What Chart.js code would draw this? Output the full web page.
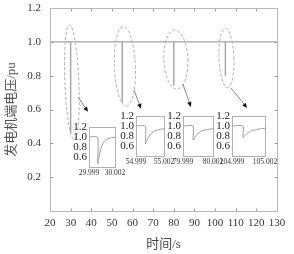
<!DOCTYPE html>
<html>
<head>
<meta charset="utf-8">
<script src="https://cdn.jsdelivr.net/npm/chart.js@4.4.1/dist/chart.umd.min.js"></script>
<style>
  html, body { margin: 0; padding: 0; background: #fff; }
  #wrap { position: relative; width: 294px; height: 254px; overflow: hidden; }
  #wrap canvas { position: absolute; }
</style>
</head>
<body>
<div id="wrap">
  <canvas id="main" width="294" height="254" style="left:0;top:0"></canvas>
  <canvas id="inset1"></canvas>
  <canvas id="inset2"></canvas>
  <canvas id="inset3"></canvas>
  <canvas id="inset4"></canvas>
</div>
<script>
// Hauptverlauf: Zeit (s) und Klemmenspannung (pu)
const mainTime = [20, 30, 30, 30.003, 55, 55, 55.003, 80, 80, 80.003, 105, 105, 105.003, 130];
const mainVolt = [1.0, 1.0, 0.46, 1.0, 1.0, 0.64, 1.0, 1.0, 0.74, 1.0, 1.0, 0.80, 1.0, 1.0];
const xTickValues = [20, 30, 40, 50, 60, 70, 80, 90, 100, 110, 120, 130];
const yTickValues = [0.2, 0.4, 0.6, 0.8, 1.0, 1.2];

// Ausschnitte um die vier Einbrueche
const inset1Time = [29.999, 30.0, 30.0, 30.0001, 30.0003, 30.0005, 30.0007, 30.001, 30.0013, 30.0016, 30.002];
const inset1Volt = [1.0, 1.0, 0.46, 0.55, 0.72, 0.83, 0.90, 0.95, 0.97, 0.985, 0.99];
const inset2Time = [54.999, 55.0, 55.0, 55.0001, 55.0003, 55.0005, 55.0007, 55.001, 55.0013, 55.0016, 55.002];
const inset2Volt = [1.0, 1.0, 0.64, 0.68, 0.76, 0.82, 0.86, 0.90, 0.92, 0.935, 0.945];
const inset3Time = [79.999, 80.0, 80.0, 80.0001, 80.0003, 80.0005, 80.0007, 80.001, 80.0013, 80.0016, 80.002];
const inset3Volt = [1.0, 1.0, 0.72, 0.75, 0.81, 0.85, 0.88, 0.91, 0.925, 0.935, 0.945];
const inset4Time = [104.999, 105.0, 105.0, 105.0001, 105.0003, 105.0005, 105.0007, 105.001, 105.0013, 105.0016, 105.002];
const inset4Volt = [1.0, 1.0, 0.77, 0.79, 0.84, 0.87, 0.90, 0.92, 0.935, 0.945, 0.955];
const insetYTicks = [0.6, 0.8, 1.0, 1.2];

const serif = "'Liberation Serif', 'Noto Sans CJK SC', serif";

// Rahmen mit nach innen zeigenden Teilstrichen
const framePlugin = {
  id: 'frame',
  afterDraw(chart, args, opts) {
    const {ctx, chartArea: a} = chart;
    const l = Math.round(a.left) + 0.5, r = Math.round(a.right) + 0.5;
    const t = Math.round(a.top) + 0.5, b = Math.round(a.bottom) + 0.5;
    ctx.save();
    ctx.lineWidth = 1;
    if (opts.tickLen) {
      ctx.strokeStyle = '#9a9a9a';
      ctx.beginPath();
      chart.scales.x.ticks.forEach(tk => {
        const px = Math.round(chart.scales.x.getPixelForValue(tk.value)) + 0.5;
        if (px <= l + 1 || px >= r - 1) return;
        ctx.moveTo(px, b); ctx.lineTo(px, b - opts.tickLen);
        ctx.moveTo(px, t); ctx.lineTo(px, t + opts.tickLen);
      });
      chart.scales.y.ticks.forEach(tk => {
        const py = Math.round(chart.scales.y.getPixelForValue(tk.value)) + 0.5;
        if (py <= t + 1 || py >= b - 1) return;
        ctx.moveTo(l, py); ctx.lineTo(l + opts.tickLen, py);
        ctx.moveTo(r, py); ctx.lineTo(r - opts.tickLen, py);
      });
      ctx.stroke();
    }
    ctx.strokeStyle = opts.color;
    ctx.strokeRect(l, t, r - l, b - t);
    ctx.restore();
  }
};

// gestrichelte Ellipsen und Pfeile zu den Ausschnitten
const ellipses = [
  {t: 30.6, top: 1.10, bottom: 0.42, rx: 7},
  {t: 56.3, top: 1.09, bottom: 0.62, rx: 10.5},
  {t: 81.0, top: 1.07, bottom: 0.72, rx: 12},
  {t: 105.5, top: 1.08, bottom: 0.73, rx: 7.5}
];
const arrows = [
  {from: [33.6, 0.675], to: [38.4, 0.586]},
  {from: [60.7, 0.716], to: [64.1, 0.604]},
  {from: [84.4, 0.75], to: [88.3, 0.615]},
  {from: [107.7, 0.728], to: [115.5, 0.609]}
];

const notePlugin = {
  id: 'notes',
  afterDatasetsDraw(chart) {
    const {ctx, scales: {x, y}} = chart;
    ctx.save();
    ctx.lineWidth = 1;
    ctx.strokeStyle = '#ababab';
    ctx.setLineDash([3, 2]);
    ellipses.forEach(e => {
      const cx = x.getPixelForValue(e.t);
      const y1 = y.getPixelForValue(e.top), y2 = y.getPixelForValue(e.bottom);
      ctx.beginPath();
      ctx.ellipse(cx, (y1 + y2) / 2, e.rx, (y2 - y1) / 2, -0.04, 0, Math.PI * 2);
      ctx.stroke();
    });
    ctx.setLineDash([]);
    arrows.forEach(ar => {
      const x1 = x.getPixelForValue(ar.from[0]), y1 = y.getPixelForValue(ar.from[1]);
      const x2 = x.getPixelForValue(ar.to[0]), y2 = y.getPixelForValue(ar.to[1]);
      const ang = Math.atan2(y2 - y1, x2 - x1);
      ctx.strokeStyle = '#8a8a8a';
      ctx.beginPath();
      ctx.moveTo(x1, y1);
      ctx.lineTo(x2 - 4 * Math.cos(ang), y2 - 4 * Math.sin(ang));
      ctx.stroke();
      ctx.fillStyle = '#111';
      ctx.beginPath();
      ctx.moveTo(x2, y2);
      ctx.lineTo(x2 - 5 * Math.cos(ang) + 2.2 * Math.sin(ang), y2 - 5 * Math.sin(ang) - 2.2 * Math.cos(ang));
      ctx.lineTo(x2 - 5 * Math.cos(ang) - 2.2 * Math.sin(ang), y2 - 5 * Math.sin(ang) + 2.2 * Math.cos(ang));
      ctx.closePath();
      ctx.fill();
    });
    ctx.restore();
  }
};

// feste Achsgroessen, ohne Label-Ueberstand im Layout
const fixX = h => s => { s.height = h; s.paddingLeft = 0; s.paddingRight = 0; };
const fixY = w => s => { s.width = w; s.paddingTop = 0; s.paddingBottom = 0; };

// Hauptdiagramm
new Chart(document.getElementById('main'), {
  type: 'line',
  data: {
    datasets: [{
      data: mainTime.map((t, i) => ({x: t, y: mainVolt[i]})),
      borderColor: '#a3a3a3',
      borderWidth: 1.4,
      pointRadius: 0,
      tension: 0
    }]
  },
  options: {
    responsive: false,
    animation: false,
    layout: {autoPadding: false, padding: {top: 8, right: 17, left: 0, bottom: 0}},
    plugins: {
      legend: {display: false},
      tooltip: {enabled: false},
      frame: {color: '#b8b8b8', tickLen: 3}
    },
    scales: {
      x: {
        type: 'linear', min: 20, max: 130,
        afterBuildTicks: s => { s.ticks = xTickValues.map(v => ({value: v})); },
        afterFit: fixX(43),
        grid: {display: false, drawTicks: false},
        border: {display: false},
        ticks: {autoSkip: false, maxRotation: 0, minRotation: 0, padding: 6, color: '#333', font: {family: serif, size: 11}},
        title: {display: true, text: '时间/s', color: '#444', font: {family: serif, size: 13}, padding: {top: 0, bottom: 2}}
      },
      y: {
        min: 0, max: 1.2,
        afterBuildTicks: s => { s.ticks = yTickValues.map(v => ({value: v})); },
        afterFit: fixY(50),
        grid: {display: false, drawTicks: false},
        border: {display: false},
        ticks: {autoSkip: false, padding: 9, color: '#333', font: {family: serif, size: 11}, callback: v => v.toFixed(1)},
        title: {display: true, text: '发电机端电压/pu', color: '#555', font: {family: serif, size: 13}, padding: {top: 4, bottom: 0}}
      }
    }
  },
  plugins: [framePlugin, notePlugin]
});

// kleine Ausschnitt-Diagramme
const insets = [
  {id: 'inset1', time: inset1Time, volt: inset1Volt, box: [89, 127, 26, 40]},
  {id: 'inset2', time: inset2Time, volt: inset2Volt, box: [136, 116, 28, 40]},
  {id: 'inset3', time: inset3Time, volt: inset3Volt, box: [183, 116, 30, 40]},
  {id: 'inset4', time: inset4Time, volt: inset4Volt, box: [232, 116, 33, 40]}
];

insets.forEach(ins => {
  const [bx, by, bw, bh] = ins.box;
  const padL = 22, padT = 8, padR = 16, padB = 12;
  const cv = document.getElementById(ins.id);
  cv.width = bw + padL + padR;
  cv.height = bh + padT + padB;
  cv.style.left = (bx - padL) + 'px';
  cv.style.top = (by - padT) + 'px';
  new Chart(cv, {
    type: 'line',
    data: {
      datasets: [{
        data: ins.time.map((t, i) => ({x: t, y: ins.volt[i]})),
        borderColor: '#9c9c9c',
        borderWidth: 1,
        pointRadius: 0,
        tension: 0.2
      }]
    },
    options: {
      responsive: false,
      animation: false,
      layout: {autoPadding: false, padding: {top: padT, right: padR, left: 0, bottom: 0}},
      plugins: {legend: {display: false}, tooltip: {enabled: false}, frame: {color: '#b0b0b0', tickLen: 0}},
      scales: {
        x: {
          type: 'linear', min: ins.time[0], max: ins.time[ins.time.length - 1],
          afterBuildTicks: s => { s.ticks = [{value: s.min}, {value: s.max}]; },
          afterFit: fixX(padB),
          grid: {display: false, drawTicks: false},
          border: {display: false},
          ticks: {autoSkip: false, maxRotation: 0, minRotation: 0, padding: 2, color: '#333', font: {family: serif, size: 7.5}, callback: v => v.toFixed(3)}
        },
        y: {
          min: 0.4, max: 1.2,
          afterBuildTicks: s => { s.ticks = insetYTicks.map(v => ({value: v})); },
          afterFit: fixY(padL),
          grid: {display: false, drawTicks: false},
          border: {display: false},
          ticks: {autoSkip: false, padding: 2, color: '#222', font: {family: serif, size: 11}, callback: v => v.toFixed(1)}
        }
      }
    },
    plugins: [framePlugin]
  });
});
</script>
</body>
</html>
